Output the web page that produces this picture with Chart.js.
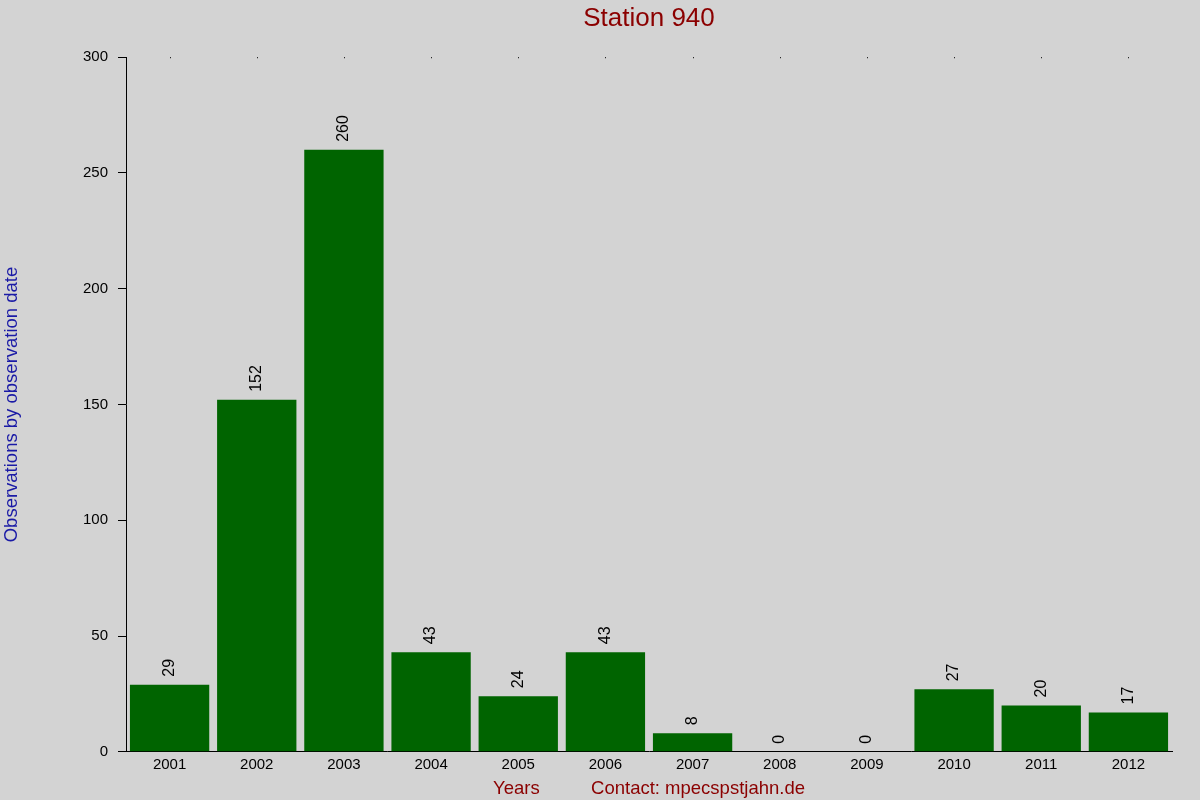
<!DOCTYPE html>
<html>
<head>
<meta charset="utf-8">
<script src="https://cdn.jsdelivr.net/npm/chart.js@4"></script>
<style>
  html, body { margin: 0; padding: 0; background: #d3d3d3; }
  canvas { display: block; }
</style>
</head>
<body>
<canvas id="barChart" width="1200" height="800"></canvas>
<script>
const years = ['2001', '2002', '2003', '2004', '2005', '2006', '2007', '2008', '2009', '2010', '2011', '2012'];
const counts = [29, 152, 260, 43, 24, 43, 8, 0, 0, 27, 20, 17];
const yTicks = [0, 50, 100, 150, 200, 250, 300];

const fontFamily = '"Liberation Sans", Arial, sans-serif';

// background, value labels over bars and the small dots along the top
const extras = {
  id: 'extras',
  beforeDraw(chart) {
    const ctx = chart.ctx;
    ctx.save();
    ctx.fillStyle = '#d3d3d3';
    ctx.fillRect(0, 0, chart.width, chart.height);
    ctx.restore();
  },
  afterDatasetsDraw(chart) {
    const ctx = chart.ctx;
    const meta = chart.getDatasetMeta(0);
    const xScale = chart.scales.x;
    const top = chart.chartArea.top;
    ctx.save();
    ctx.fillStyle = '#000';
    years.forEach((y, i) => {
      const x = Math.round(xScale.getPixelForValue(i));
      ctx.fillRect(x, top, 1, 1);
    });
    ctx.font = '16px ' + fontFamily;
    ctx.textAlign = 'left';
    ctx.textBaseline = 'middle';
    meta.data.forEach((bar, i) => {
      ctx.save();
      ctx.translate(bar.x, bar.y - 8);
      ctx.rotate(-Math.PI / 2);
      ctx.fillText(String(counts[i]), 0, 0);
      ctx.restore();
    });
    ctx.restore();
  }
};

new Chart(document.getElementById('barChart').getContext('2d'), {
  type: 'bar',
  data: {
    labels: years,
    datasets: [{
      data: counts,
      backgroundColor: '#006400',
      borderWidth: 0,
      barPercentage: 0.91,
      categoryPercentage: 1.0
    }]
  },
  options: {
    responsive: false,
    animation: false,
    devicePixelRatio: 1,
    layout: {
      padding: { left: 0, right: 28, top: 0, bottom: 0 }
    },
    plugins: {
      legend: { display: false },
      tooltip: { enabled: false },
      title: {
        display: true,
        fullSize: false,
        text: 'Station 940',
        color: '#8b0000',
        font: { family: fontFamily, size: 26, weight: 'normal' },
        padding: { top: 3, bottom: 23 }
      }
    },
    scales: {
      x: {
        grid: { display: false, drawTicks: false },
        border: { display: true, color: '#000', width: 1 },
        ticks: {
          color: '#000',
          padding: 4,
          maxRotation: 0,
          font: { family: fontFamily, size: 15 }
        },
        title: {
          display: true,
          text: 'Years          Contact: mpecspstjahn.de',
          color: '#8b0000',
          font: { family: fontFamily, size: 18.5 },
          padding: { top: 0, bottom: 0 }
        }
      },
      y: {
        min: 0,
        max: 300,
        afterBuildTicks(axis) {
          axis.ticks = yTicks.map(v => ({ value: v }));
        },
        afterFit(axis) {
          axis.width = 126;
        },
        grid: {
          drawOnChartArea: false,
          drawTicks: true,
          tickLength: 8,
          color: '#000'
        },
        border: { display: true, color: '#000', width: 1 },
        ticks: {
          color: '#000',
          padding: 10,
          font: { family: fontFamily, size: 15 }
        },
        title: {
          display: true,
          text: 'Observations by observation date',
          color: '#1a1aa6',
          font: { family: fontFamily, size: 18.5 },
          padding: { top: 1, bottom: 4 }
        }
      }
    }
  },
  plugins: [extras]
});
</script>
</body>
</html>
